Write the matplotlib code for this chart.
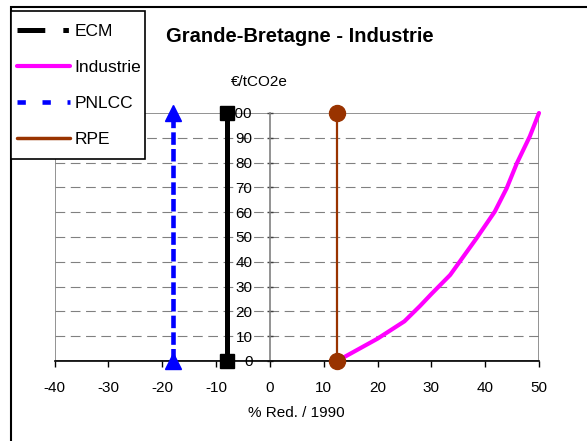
import matplotlib
matplotlib.use("Agg")
import matplotlib.pyplot as plt
from matplotlib.lines import Line2D
from matplotlib.patches import Rectangle

plt.rcParams['font.family'] = ['Liberation Sans', 'DejaVu Sans']
plt.rcParams['lines.scale_dashes'] = False
plt.rcParams['axes.unicode_minus'] = False

# data
ecm_x = [-8, -8]
ecm_y = [0, 100]
pnlcc_x = [-18, -18]
pnlcc_y = [0, 100]
rpe_x = [12.5, 12.5]
rpe_y = [0, 100]
ind_x = [12.5, 15, 20, 25, 27.9, 30, 33.5, 38.4, 41.8, 44, 45.9, 48.3, 50]
ind_y = [0, 3, 9, 16, 22.2, 27, 34.7, 49.5, 60.3, 69.7, 79.8, 90.6, 100]
xticks = list(range(-40, 51, 10))
yticks = list(range(0, 101, 10))

W, H = 587, 441
fig = plt.figure(figsize=(W / 100, H / 100), dpi=100)
ax = fig.add_axes([54.5 / W, 1 - 361 / H, (539 - 54.5) / W, (361 - 113) / H])

gray = '#808080'
ax.set_xlim(-40, 50)
ax.set_ylim(0, 100)

# grid
for yv in yticks[1:-1]:
    ax.axhline(yv, color=gray, lw=0.8, linestyle=(0, (7, 4)), zorder=0)

# plot frame
ax.add_patch(Rectangle((0, 0), 1, 1, transform=ax.transAxes, fill=False,
                       edgecolor=gray, lw=1.2, zorder=0.5))

ax.spines['top'].set_visible(False)
ax.spines['right'].set_visible(False)
ax.spines['left'].set_position(('data', 0))
ax.spines['left'].set_color(gray)
ax.spines['left'].set_linewidth(1.2)
ax.spines['bottom'].set_color('black')
ax.spines['bottom'].set_linewidth(1.2)

ax.set_xticks(xticks)
ax.set_yticks(yticks)
ax.tick_params(axis='x', direction='out', length=4, width=1, labelsize=11, pad=10.5)
ax.tick_params(axis='y', direction='inout', length=5, width=1, color='#404040',
               labelsize=11, pad=10)

# series
ax.plot(ecm_x, ecm_y, color='black', lw=3.6, marker='s', ms=9.5,
        clip_on=False, zorder=3)
ax.plot(ind_x, ind_y, color='#FF00FF', lw=3, clip_on=False, zorder=3,
        solid_capstyle='round', solid_joinstyle='round')
ax.plot(pnlcc_x, pnlcc_y, color='#0000FF', lw=3.3, linestyle=(0, (9, 3)),
        marker='^', ms=11, clip_on=False, zorder=3)
ax.plot(rpe_x, rpe_y, color='#993300', lw=1.6, marker='o', ms=11.5,
        clip_on=False, zorder=4)

ax.set_xlabel('% Red. / 1990', fontsize=11, labelpad=8)
ax.text(-2, 112.7, '€/tCO2e', fontsize=11, ha='center', va='center')
fig.text(300 / W, 1 - 37 / H, 'Grande-Bretagne - Industrie', fontsize=14.5,
         fontweight='bold', ha='center', va='center')

# outer chart border
fig.patches.append(Rectangle((11 / W, -0.1), 1.2, 1 - 7 / H + 0.1,
                             transform=fig.transFigure, fill=False,
                             edgecolor='black', lw=1.5))
# legend box
fig.patches.append(Rectangle((11 / W, 1 - 159 / H), 134 / W, 148 / H,
                             transform=fig.transFigure, facecolor='white',
                             edgecolor='black', lw=1.2, zorder=5))

handles = [
    Line2D([], [], color='black', lw=3.6, linestyle=(0, (20, 13, 4, 40)),
           solid_capstyle='butt', dash_capstyle='butt'),
    Line2D([], [], color='#FF00FF', lw=3, solid_capstyle='round'),
    Line2D([], [], color='#0000FF', lw=3.3, linestyle=(0, (6, 12)),
           dash_capstyle='butt'),
    Line2D([], [], color='#993300', lw=2.5, solid_capstyle='round'),
]
labels = ['ECM', 'Industrie', 'PNLCC', 'RPE']
leg = fig.legend(handles, labels, loc='upper left',
                 bbox_to_anchor=(16.5 / W, 1 - 24 / H), bbox_transform=fig.transFigure,
                 fontsize=12.5, frameon=False, borderaxespad=0,
                 borderpad=0, handlelength=3.1, handletextpad=0.25,
                 labelspacing=1.2)
leg.set_zorder(10)

fig.savefig('out.png', dpi=100)
